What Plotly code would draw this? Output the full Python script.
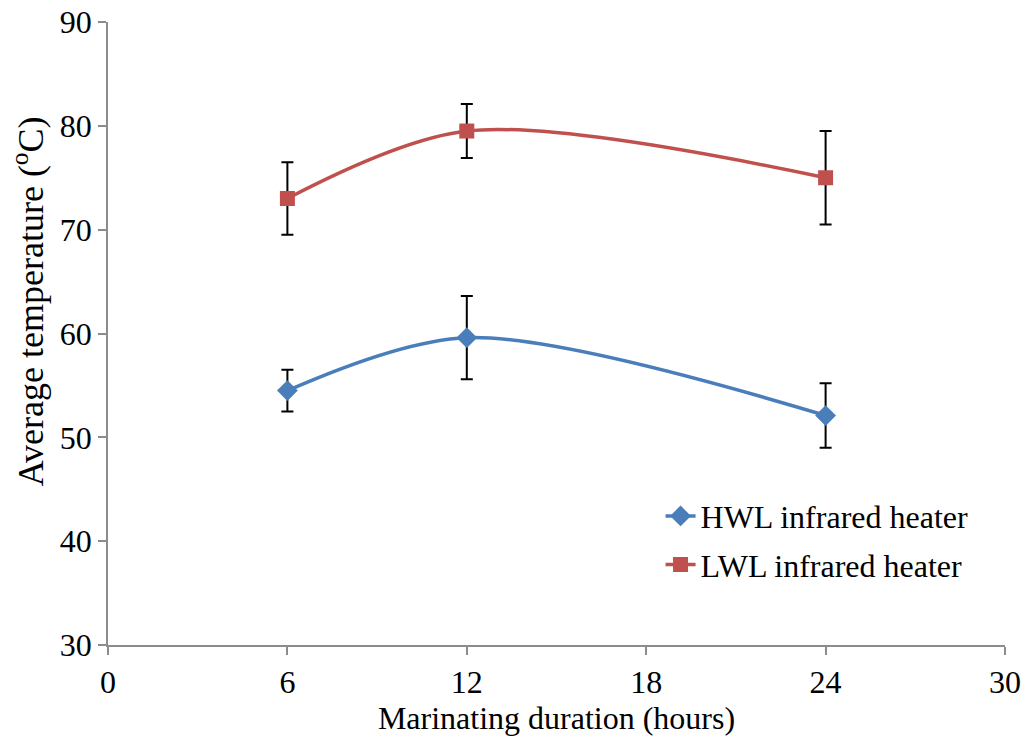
import plotly.graph_objects as go

# Marinating duration (hours)
hours = [6, 12, 24]

# Average temperature (°C) and standard deviation for each heater
hwl_temp = [54.5, 59.6, 52.1]
hwl_err = [2.0, 4.0, 3.1]
lwl_temp = [73.0, 79.5, 75.0]
lwl_err = [3.5, 2.6, 4.5]

x_ticks = [0, 6, 12, 18, 24, 30]
y_ticks = [30, 40, 50, 60, 70, 80, 90]

FONT = "Liberation Serif, Times New Roman, serif"
AXIS_GREY = "#8c8c8c"
FS = 32

fig = go.Figure()

fig.add_trace(go.Scatter(
    x=hours, y=hwl_temp, name="HWL infrared heater",
    mode="lines+markers", line=dict(color="#4a7ebb", width=3.5, shape="spline", smoothing=0.9),
    marker=dict(symbol="diamond", size=16, color="#4a7ebb"),
    error_y=dict(type="data", array=hwl_err, visible=True, color="black", thickness=2, width=6),
    legendgroup="hwl",
))
fig.add_trace(go.Scatter(
    x=hours, y=lwl_temp, name="LWL infrared heater",
    mode="lines+markers", line=dict(color="#c0504d", width=3.5, shape="spline", smoothing=0.9),
    marker=dict(symbol="square", size=15, color="#c0504d"),
    error_y=dict(type="data", array=lwl_err, visible=True, color="black", thickness=2, width=6),
    legendgroup="lwl",
))

fig.update_layout(
    width=1023, height=737,
    margin=dict(l=108, r=18, t=22, b=92),
    paper_bgcolor="white", plot_bgcolor="white",
    font=dict(family=FONT, size=FS, color="black"),
    showlegend=True,
    legend=dict(
        x=0.616, y=0.251, xanchor="left", yanchor="top",
        font=dict(family=FONT, size=FS, color="black"),
        bgcolor="rgba(0,0,0,0)", traceorder="grouped", tracegroupgap=4,
    ),
    xaxis=dict(
        range=[0, 30], tickvals=x_ticks, ticktext=[str(v) for v in x_ticks],
        showgrid=False, zeroline=False, automargin=False,
        showline=True, linecolor=AXIS_GREY, linewidth=1.5,
        ticks="outside", ticklen=8, tickcolor=AXIS_GREY, tickwidth=1.5,
        tickfont=dict(family=FONT, size=FS),
        title=dict(text="Marinating duration (hours)", font=dict(family=FONT, size=FS), standoff=4),
    ),
    yaxis=dict(
        range=[30, 90], tickvals=y_ticks, ticktext=[str(v) for v in y_ticks],
        showgrid=False, zeroline=False, automargin=False,
        showline=True, linecolor=AXIS_GREY, linewidth=1.5,
        ticks="outside", ticklen=8, tickcolor=AXIS_GREY, tickwidth=1.5,
        tickfont=dict(family=FONT, size=FS),
    ),
    annotations=[dict(
        text="Average temperature (<sup>o</sup>C)",
        xref="paper", yref="paper", x=-0.089, y=0.552,
        xanchor="center", yanchor="middle", textangle=-90, showarrow=False,
        font=dict(family=FONT, size=36, color="black"),
    )],
)

fig.write_html("out.html")
